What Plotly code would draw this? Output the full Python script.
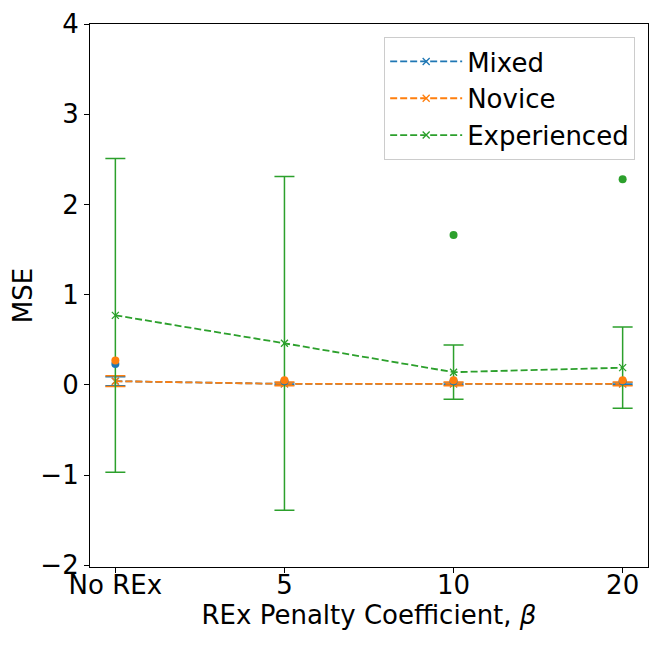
import plotly.graph_objects as go

categories = ["No REx", "5", "10", "20"]
x_pos = [0, 1, 2, 3]

mixed_mean = [0.04, 0.01, 0.01, 0.01]
mixed_err = [0.05, 0.01, 0.01, 0.01]
novice_mean = [0.04, 0.01, 0.01, 0.01]
novice_err = [0.06, 0.02, 0.02, 0.02]
exp_mean = [0.77, 0.46, 0.14, 0.19]
exp_err = [1.74, 1.85, 0.30, 0.45]

mixed_dots = [0.23, 0.04, 0.04, 0.04]
novice_dots = [0.27, 0.05, 0.05, 0.05]
exp_dots_x = [2, 3]
exp_dots = [1.66, 2.28]

colors = {"Mixed": "#1f77b4", "Novice": "#ff7f0e", "Experienced": "#2ca02c"}

fig = go.Figure()

series = [("Mixed", mixed_mean, mixed_err), ("Novice", novice_mean, novice_err),
          ("Experienced", exp_mean, exp_err)]
for name, m, e in series:
    c = colors[name]
    fig.add_trace(go.Scatter(
        x=x_pos, y=m, name=name, mode="lines+markers",
        line=dict(color=c, width=1.8, dash="7px,3px"),
        marker=dict(symbol="x-thin", size=7, line=dict(color=c, width=1.3)),
        error_y=dict(type="data", array=e, visible=True, color=c, thickness=1.5, width=10),
    ))

fig.add_trace(go.Scatter(x=x_pos, y=mixed_dots, mode="markers", showlegend=False,
                         marker=dict(color=colors["Mixed"], size=8)))
fig.add_trace(go.Scatter(x=x_pos, y=novice_dots, mode="markers", showlegend=False,
                         marker=dict(color=colors["Novice"], size=8)))
fig.add_trace(go.Scatter(x=exp_dots_x, y=exp_dots, mode="markers", showlegend=False,
                         marker=dict(color=colors["Experienced"], size=8)))

fig.update_layout(
    width=654, height=641,
    margin=dict(l=82, r=14, t=16, b=82),
    paper_bgcolor="white", plot_bgcolor="white",
    font=dict(family="DejaVu Sans", size=26, color="black"),
    legend=dict(x=0.977, y=0.976, xanchor="right", yanchor="top",
                bordercolor="#cccccc", borderwidth=1, bgcolor="rgba(255,255,255,0.8)",
                font=dict(size=26), itemwidth=72),
    xaxis=dict(range=[-0.15, 3.15], tickvals=x_pos, ticktext=categories,
               showgrid=False, zeroline=False, showline=True, linecolor="black",
               linewidth=1.2, mirror=True, ticks="outside", ticklen=5, tickcolor="black",
               automargin=False, ticklabelstandoff=-10,
               title=dict(text="REx Penalty Coefficient, <i>β</i>", standoff=6,
                          font=dict(size=26))),
    yaxis=dict(range=[-2.02, 4.0], tickvals=[-2, -1, 0, 1, 2, 3, 4],
               ticktext=["\u22122", "\u22121", "0", "1", "2", "3", "4"],
               showgrid=False, zeroline=False, showline=True, linecolor="black",
               linewidth=1.2, mirror=True, ticks="outside", ticklen=5, tickcolor="black",
               automargin=False,
               title=dict(text="MSE", standoff=8, font=dict(size=26))),
)

fig.write_html("out.html")
